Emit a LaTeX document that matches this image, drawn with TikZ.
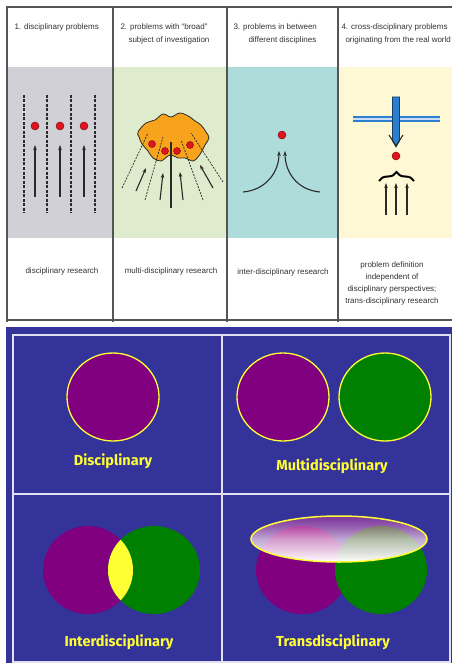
\documentclass[tikz,border=0pt]{standalone}
\usepackage{fontspec}
\setmainfont{Liberation Sans}
\newfontfamily\tagfont{Fira Sans}
\usetikzlibrary{arrows.meta, decorations.pathreplacing, fadings}
\definecolor{cgray}{HTML}{D0D0D6}
\definecolor{cmint}{HTML}{DEEBCC}
\definecolor{cteal}{HTML}{AEDCDA}
\definecolor{ccream}{HTML}{FFF8D4}
\definecolor{cline}{HTML}{555555}
\definecolor{cink}{HTML}{333333}
\definecolor{cdark}{HTML}{2A2A2A}
\definecolor{cred}{HTML}{E0141E}
\definecolor{corange}{HTML}{F8A31C}
\definecolor{cblue}{HTML}{2C7FCF}
\definecolor{cnavy}{HTML}{333399}
\definecolor{cpurple}{HTML}{800080}
\definecolor{cgreen}{HTML}{008000}
\definecolor{cyel}{HTML}{FFFF33}
\definecolor{cpink}{HTML}{D03A9E}
\tikzfading[name=lidfade, top color=transparent!55, middle color=transparent!10, bottom color=transparent!0]
\tikzset{
  every picture/.style={line width=1pt},
  rule/.style={draw=cline, line width=1.1pt},
  head/.style={font=\fontsize{8}{13}\selectfont, text=cink, align=left, inner sep=0pt, anchor=north west},
  foot/.style={font=\fontsize{8}{12}\selectfont, text=cink, align=center, inner sep=0pt},
  guide/.style={draw=cdark, dash pattern=on 3pt off 1.5pt, line width=1.1pt},
  thin guide/.style={draw=cdark, dash pattern=on 2pt off 1.2pt, line width=0.7pt},
  arrow/.style={-{Stealth[length=5pt, width=3.5pt]}, draw=cdark, line width=1.1pt},
  dot/.style={circle, fill=cred, draw=red!45!black, line width=0.4pt, minimum size=8pt, inner sep=0pt},
  set/.style={fill=#1, draw=cyel, line width=1.3pt},
  tag/.style={font=\tagfont\bfseries\fontsize{14.5}{14.5}\selectfont, text=cyel, inner sep=0pt},
  frame/.style={draw=white!85!cnavy, line width=1.6pt},
}

\begin{document}
\begin{tikzpicture}[x=1pt, y=-1pt]
  \useasboundingbox (0,0) rectangle (452,663);
  \fill[white] (0,0) rectangle (452,663);
  % top table: colour bands and rules
  \foreach \tint/\xa/\xb in {cgray/7/113, cmint/113/227, cteal/227/338, ccream/338/452}
    \fill[\tint] (\xa,67) rectangle (\xb,238);
  \draw[rule] (7,322) -- (7,7) -- (452,7);
  \draw[rule] (7,320) -- (452,320);
  \foreach \x in {113,227,338} \draw[rule] (\x,7) -- (\x,322);
  \node[head] (h1) at (14,23.5) {1. disciplinary problems};
  \node[head] (h2) at (120,23.5) {2. problems with ``broad''\\\hspace*{8pt}subject of investigation};
  \node[head] (h3) at (233,23.5) {3. problems in between\\\hspace*{15pt}different disciplines};
  \node[head] (h4) at (341,23.5) {4. cross-disciplinary problems\\\hspace*{4pt}originating from the real world};
  \node[foot] (f1) at (62,271) {disciplinary research};
  \node[foot] (f2) at (171,271) {multi-disciplinary research};
  \node[foot] (f3) at (283,272) {inter-disciplinary research};
  \node[foot] (f4) at (392,283) {problem definition\\independent of\\disciplinary perspectives;\\trans-disciplinary research};
  % (1) disciplinary problems
  \foreach \x in {24,47,71,95} \draw[guide] (\x,95) -- (\x,213);
  \foreach \x/\i in {35/1,60/2,84/3} {
    \node[dot] (p\i) at (\x,126) {};
    \draw[arrow] (\x,197) -- (\x,145);
  }
  % (2) broad subject
  \filldraw[fill=corange, draw=cdark, line width=0.8pt] plot[smooth cycle, tension=0.6] coordinates {
    (138,132) (146,123) (155,120) (163,114) (171,117) (180,113) (190,117) (195,121) (201,125)
    (206,132) (209,138) (205,145) (202,151) (198,157) (193,161) (185,158) (178,158) (170,155)
    (161,161) (153,158) (148,151) (142,144) (139,137)};
  \foreach \xa/\ya/\xb/\yb in {122/188/148/133, 145/200/163/137, 203/200/181/140, 223/182/191/133}
    \draw[thin guide] (\xa,\ya) -- (\xb,\yb);
  \draw[draw=cdark, line width=1.1pt] (171,208) -- (171,142);
  \foreach \xa/\ya/\xb/\yb in {136/191/146/168, 160/200/163/173, 183/200/180/172, 213/188/200/165}
    \draw[arrow] (\xa,\ya) -- (\xb,\yb);
  \foreach \x/\y/\i in {152/144/1, 165/151/2, 177/151/3, 190/145/4}
    \node[dot, minimum size=7pt] (q\i) at (\x,\y) {};
  % (3) in between disciplines
  \node[dot] (r1) at (282,135) {};
  \draw[arrow] (243,192) .. controls (266,190) and (279,172) .. (279,151);
  \draw[arrow] (320,192) .. controls (297,190) and (285,172) .. (285,151);
  % (4) from the real world
  \draw[draw=cblue, line width=2pt, double=white!75!cblue, double distance=1.4pt] (353,119) -- (440,119);
  \filldraw[fill=cblue, draw=cblue!50!black, line width=0.6pt] (392.5,97) -- (399.5,97) -- (399.5,141) -- (396,147) -- (392.5,141) -- cycle;
  \draw[draw=cdark, line width=1.1pt] (389,135) -- (396,146) -- (403,135);
  \node[dot] (s1) at (396,156) {};
  \draw[decorate, decoration={brace, amplitude=9pt}, draw=black, line width=2pt] (379,181) -- (414,181);
  \foreach \x in {386,396,407} \draw[arrow] (\x,215) -- (\x,183);
  % bottom: four set pictures
  \fill[cnavy] (6,327) rectangle (452,663);
  \draw[frame] (13,335) rectangle (450,662);
  \draw[frame] (222,335) -- (222,662);
  \draw[frame] (13,494) -- (450,494);
  \filldraw[set=cpurple] (113,397) ellipse [x radius=46, y radius=44];
  \node[tag] (tdisc) at (113,461) {Disciplinary};
  \filldraw[set=cpurple] (283,397) ellipse [x radius=46, y radius=44];
  \filldraw[set=cgreen] (385,397) ellipse [x radius=46, y radius=44];
  \node[tag] (tmulti) at (332,466) {Multidisciplinary};
  \fill[cpurple] (88,570) ellipse [x radius=45, y radius=44];
  \fill[cgreen] (154,570) ellipse [x radius=46, y radius=44];
  \begin{scope}
    \clip (88,570) ellipse [x radius=45, y radius=44];
    \fill[cyel] (154,570) ellipse [x radius=46, y radius=44];
  \end{scope}
  \node[tag] (tinter) at (119,642) {Interdisciplinary};
  \fill[cpurple] (302,570) ellipse [x radius=46, y radius=44];
  \fill[cgreen] (381,570) ellipse [x radius=46, y radius=44];
  \shade[top color=cpink, bottom color=white, middle color=white!80!cpink, path fading=lidfade] (339,539) ellipse [x radius=88, y radius=23];
  \draw[draw=cyel, line width=1.5pt] (339,539) ellipse [x radius=88, y radius=23];
  \node[tag] (ttrans) at (333,642) {Transdisciplinary};
\end{tikzpicture}
\end{document}
